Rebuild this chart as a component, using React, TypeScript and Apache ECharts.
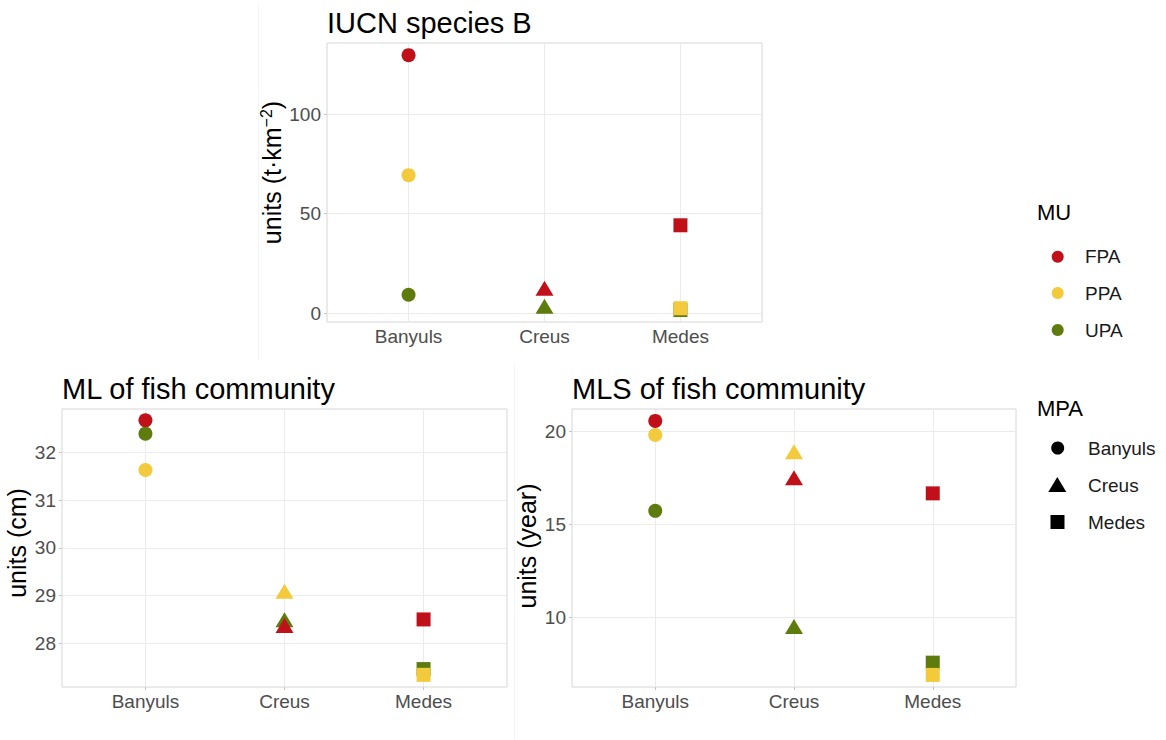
import React, { useEffect, useRef } from 'react';
import * as echarts from 'echarts';

const categories = ['Banyuls', 'Creus', 'Medes'];
const muNames = ['FPA', 'PPA', 'UPA'];

// IUCN species B (t·km-2)
const iucnFPA = [129.6, 11.2, 44.1];
const iucnPPA = [69.3, null, 2.4];
const iucnUPA = [9.2, 2.2, 1.5];

// ML of fish community (cm)
const mlFPA = [32.67, 28.32, 28.5];
const mlPPA = [31.63, 29.04, 27.34];
const mlUPA = [32.39, 28.44, 27.46];

// MLS of fish community (year)
const mlsFPA = [20.58, 17.39, 16.68];
const mlsPPA = [19.82, 18.79, 6.91];
const mlsUPA = [15.74, 9.38, 7.57];

const iucnTicks = [0, 50, 100];
const mlTicks = [28, 29, 30, 31, 32];
const mlsTicks = [10, 15, 20];

const muColors: Record<string, string> = { FPA: '#C0111A', PPA: '#F2CA3B', UPA: '#5E7B0E' };
const mpaSymbols = ['circle', 'triangle', 'rect'];
const drawOrder = [
  ['FPA', 'PPA', 'UPA'],
  ['UPA', 'FPA', 'PPA'],
  ['UPA', 'FPA', 'PPA'],
];

const FONT = "'Liberation Sans', Arial, sans-serif";

type Panel = {
  title: string;
  values: Record<string, (number | null)[]>;
  ticks: number[];
  min: number;
  max: number;
  splitNumber: number;
  grid: { left: number; top: number; width: number; height: number };
  name: string;
  rich?: boolean;
  nameGap: number;
  nameShift: number;
};

const panels: Panel[] = [
  {
    title: 'IUCN species B',
    values: { FPA: iucnFPA, PPA: iucnPPA, UPA: iucnUPA },
    ticks: iucnTicks,
    min: -4.5,
    max: 135.7,
    splitNumber: 3,
    grid: { left: 327, top: 43, width: 435, height: 279 },
    name: '{a|units (t·km}{s|−2}{a|)}',
    rich: true,
    nameGap: 41,
    nameShift: 20,
  },
  {
    title: 'ML of fish community',
    values: { FPA: mlFPA, PPA: mlPPA, UPA: mlUPA },
    ticks: mlTicks,
    min: 27.085,
    max: 32.907,
    splitNumber: 5,
    grid: { left: 62, top: 409, width: 445, height: 278 },
    name: 'units (cm)',
    nameGap: 28,
    nameShift: 10,
  },
  {
    title: 'MLS of fish community',
    values: { FPA: mlsFPA, PPA: mlsPPA, UPA: mlsUPA },
    ticks: mlsTicks,
    min: 6.26,
    max: 21.22,
    splitNumber: 3,
    grid: { left: 572, top: 409, width: 444, height: 278 },
    name: 'units (year)',
    nameGap: 28,
    nameShift: 4,
  },
];

function buildOption() {
  const grids: any[] = [];
  const xAxes: any[] = [];
  const yAxes: any[] = [];
  const series: any[] = [];
  const titles: any[] = [];

  panels.forEach((p, i) => {
    grids.push({
      ...p.grid,
      show: true,
      borderColor: '#d6d6d6',
      borderWidth: 1,
      backgroundColor: 'transparent',
    });
    titles.push({
      text: p.title,
      left: p.grid.left,
      top: p.grid.top - 35,
      padding: 0,
      textStyle: { fontSize: 29, fontWeight: 'normal', color: '#000', fontFamily: FONT },
    });
    xAxes.push({
      type: 'value',
      gridIndex: i,
      min: 0.4,
      max: 3.6,
      axisLine: { show: false },
      splitLine: { show: false },
      axisTick: {
        show: true,
        customValues: [1, 2, 3],
        length: 3,
        lineStyle: { color: '#c4c4c4' },
      },
      axisLabel: {
        customValues: [1, 2, 3],
        formatter: (v: number) => categories[Math.round(v) - 1] ?? '',
        fontSize: 19,
        color: '#4d4d4d',
        fontFamily: FONT,
        margin: 5,
      },
    });
    const nameTextStyle: any = p.rich
      ? {
          padding: [0, 0, 0, p.nameShift],
          rich: {
            a: { fontSize: 25, color: '#000', fontFamily: FONT, lineHeight: 28 },
            s: { fontSize: 16, color: '#000', fontFamily: FONT, lineHeight: 14, verticalAlign: 'top' },
          },
        }
      : { fontSize: 25, color: '#000', fontFamily: FONT, lineHeight: 28, padding: [0, 0, 0, p.nameShift] };
    yAxes.push({
      type: 'value',
      gridIndex: i,
      min: p.min,
      max: p.max,
      splitNumber: p.splitNumber,
      axisLine: { show: false },
      axisTick: { show: true, customValues: p.ticks, length: 3, lineStyle: { color: '#c4c4c4' } },
      splitLine: { show: true, lineStyle: { color: '#ebebeb', width: 1 } },
      axisLabel: {
        customValues: p.ticks,
        formatter: (v: number) => (p.ticks.some((t) => Math.abs(t - v) < 1e-6) ? String(Math.round(v)) : ''),
        fontSize: 19,
        color: '#4d4d4d',
        fontFamily: FONT,
        margin: 6,
      },
      name: p.name,
      nameLocation: 'middle',
      nameGap: p.nameGap,
      nameTextStyle,
    });

    // vertical grid lines at the category positions
    series.push({
      type: 'scatter',
      xAxisIndex: i,
      yAxisIndex: i,
      data: [],
      silent: true,
      z: 1,
      markLine: {
        silent: true,
        z: 1,
        symbol: ['none', 'none'],
        label: { show: false },
        lineStyle: { color: '#ebebeb', width: 1, type: 'solid' },
        data: [1, 2, 3].map((x) => ({ xAxis: x })),
      },
    });

    categories.forEach((cat, c) => {
      drawOrder[c].forEach((mu) => {
        const v = p.values[mu][c];
        if (v == null) return;
        const sym = mpaSymbols[c];
        series.push({
          type: 'scatter',
          name: mu,
          xAxisIndex: i,
          yAxisIndex: i,
          z: 10,
          symbol: sym,
          symbolSize: sym === 'triangle' ? [18, 15] : 14,
          symbolOffset: sym === 'triangle' ? [0, -2.5] : [0, 0],
          itemStyle: { color: muColors[mu], opacity: 1 },
          data: [[c + 1, v]],
        });
      });
    });
  });

  const legendY = [256.7, 293, 330];
  const mpaY = [448, 485, 522];
  const graphic: any[] = [
    { type: 'line', shape: { x1: 258.5, y1: 5, x2: 258.5, y2: 360 }, style: { stroke: '#f4f4f4', lineWidth: 1 } },
    { type: 'line', shape: { x1: 514.5, y1: 365, x2: 514.5, y2: 740 }, style: { stroke: '#f4f4f4', lineWidth: 1 } },
    {
      type: 'text',
      x: 1037,
      y: 212,
      style: { text: 'MU', font: `22px ${FONT}`, fill: '#000', verticalAlign: 'middle' },
    },
    {
      type: 'text',
      x: 1037,
      y: 408,
      style: { text: 'MPA', font: `22px ${FONT}`, fill: '#000', verticalAlign: 'middle' },
    },
  ];
  muNames.forEach((mu, k) => {
    graphic.push({
      type: 'circle',
      shape: { cx: 1057.7, cy: legendY[k], r: 6 },
      style: { fill: muColors[mu] },
    });
    graphic.push({
      type: 'text',
      x: 1085,
      y: legendY[k],
      style: { text: mu, font: `19px ${FONT}`, fill: '#1a1a1a', verticalAlign: 'middle' },
    });
  });
  categories.forEach((cat, k) => {
    const cy = mpaY[k];
    if (k === 0) {
      graphic.push({ type: 'circle', shape: { cx: 1057.7, cy, r: 6.5 }, style: { fill: '#000' } });
    } else if (k === 1) {
      graphic.push({
        type: 'polygon',
        shape: { points: [[1057.3, cy - 8], [1066.3, cy + 7], [1048.3, cy + 7]] },
        style: { fill: '#000' },
      });
    } else {
      graphic.push({ type: 'rect', shape: { x: 1050.5, y: cy - 7, width: 14, height: 14 }, style: { fill: '#000' } });
    }
    graphic.push({
      type: 'text',
      x: 1088,
      y: cy,
      style: { text: cat, font: `19px ${FONT}`, fill: '#1a1a1a', verticalAlign: 'middle' },
    });
  });

  return {
    animation: false,
    backgroundColor: '#ffffff',
    title: titles,
    grid: grids,
    xAxis: xAxes,
    yAxis: yAxes,
    series,
    graphic,
  };
}

export default function App() {
  const ref = useRef<HTMLDivElement>(null);
  useEffect(() => {
    document.body.style.margin = '0';
    if (!ref.current) return;
    const chart = echarts.init(ref.current, undefined, { renderer: 'svg' });
    chart.setOption(buildOption() as any);
    return () => chart.dispose();
  }, []);
  return <div ref={ref} style={{ width: 1166, height: 740 }} />;
}
